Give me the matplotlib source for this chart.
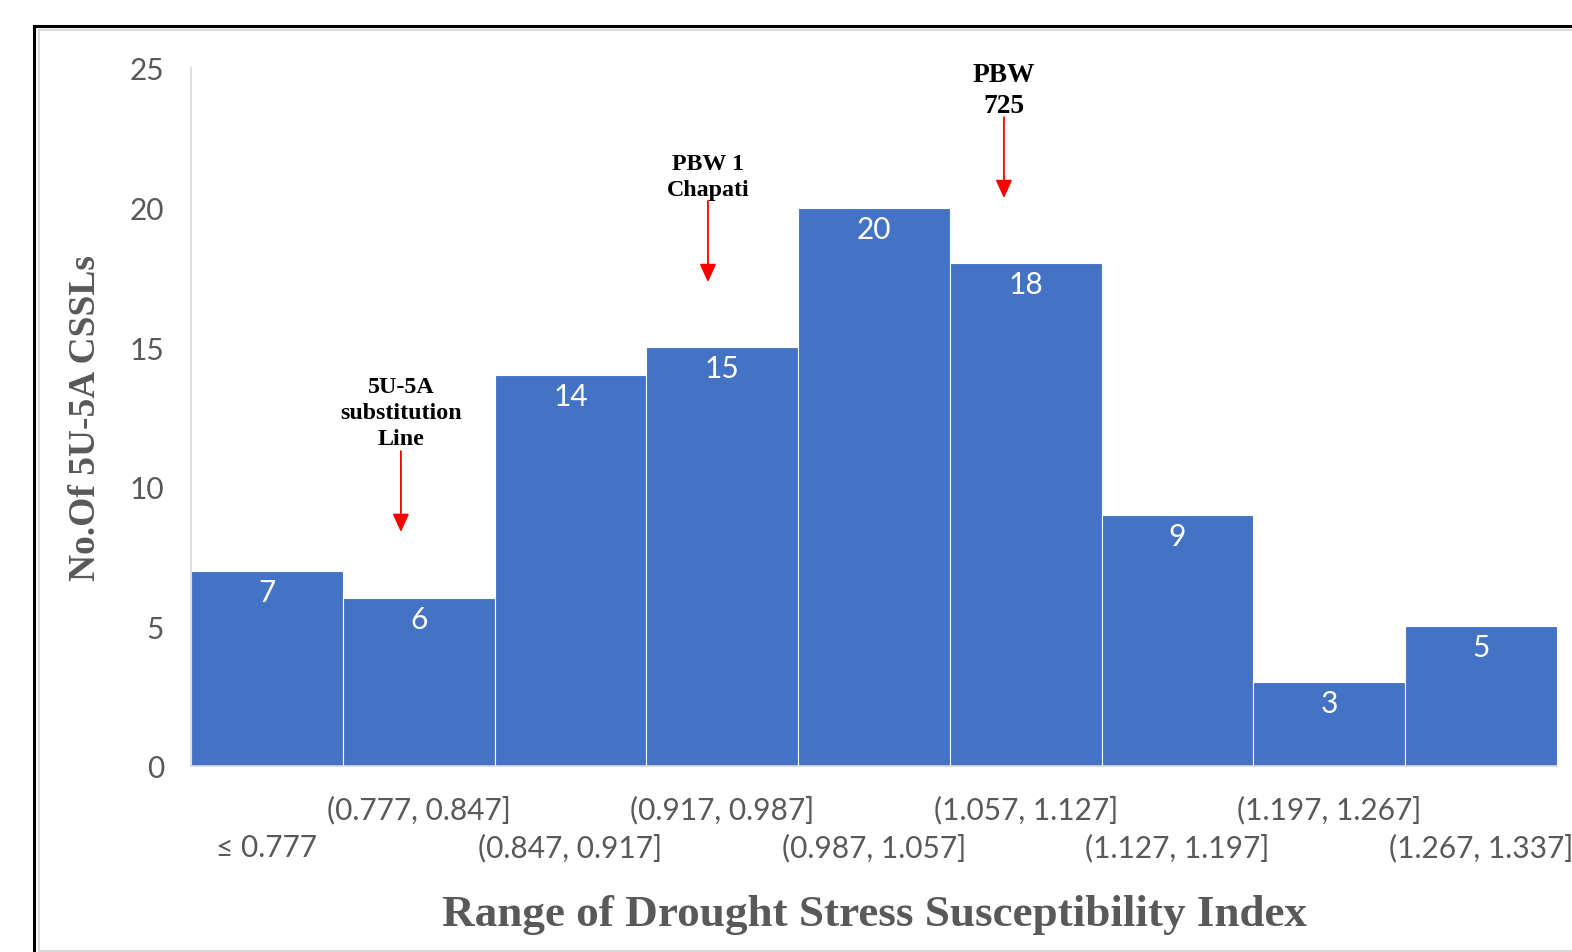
import matplotlib
matplotlib.use("Agg")
import matplotlib.pyplot as plt
from matplotlib.lines import Line2D
from matplotlib.transforms import ScaledTranslation

# ---- data ----
categories = ["\u2264 0.777", "(0.777, 0.847]", "(0.847, 0.917]", "(0.917, 0.987]",
              "(0.987, 1.057]", "(1.057, 1.127]", "(1.127, 1.197]", "(1.197, 1.267]",
              "(1.267, 1.337]"]
counts = [7, 6, 14, 15, 20, 18, 9, 3, 5]
yticks = [0, 5, 10, 15, 20, 25]

# annotations: text, target category index
ann_texts = ["5U-5A\nsubstitution\nLine", "PBW 1\nChapati", "PBW\n725"]
ann_index = [1, 3, 5]

BAR = "#4472C4"
GRAY = "#595959"
SANS = "Lato"
SERIF = "Liberation Serif"
TFS = 21.5

W, H = 1572, 953
fig = plt.figure(figsize=(W / 100, H / 100), dpi=100)
ax = fig.add_axes([191 / W, 1 - 767 / H, (1557 - 191) / W, (767 - 69) / H])

x = list(range(len(categories)))
ax.bar(x, counts, width=1.0, color=BAR, edgecolor="white", linewidth=0.8, zorder=2)
ax.set_xlim(-0.5, len(categories) - 0.5)
ax.set_ylim(0, 25)

for xi, c in zip(x, counts):
    ax.annotate(str(c), (xi, c), xytext=(0, -21), textcoords="offset pixels",
                ha="center", va="center", color="white", fontsize=TFS, family=SANS, zorder=3)

ax.set_yticks(yticks)
ax.set_yticklabels([str(t) for t in yticks], fontsize=TFS, family=SANS, color=GRAY)
ax.set_xticks(x)
ax.set_xticklabels(categories, fontsize=TFS, family=SANS, color=GRAY)
ax.tick_params(axis="both", length=0)
ax.tick_params(axis="y", pad=19.5)
ax.tick_params(axis="x", pad=21)
for i, lab in enumerate(ax.get_xticklabels()):
    if i % 2 == 0:
        lab.set_transform(lab.get_transform() + ScaledTranslation(0, -0.38, fig.dpi_scale_trans))

for s in ["top", "right"]:
    ax.spines[s].set_visible(False)
for s in ["left", "bottom"]:
    ax.spines[s].set_color("#d9d9d9")
    ax.spines[s].set_linewidth(1.2)

ax.set_ylabel("No.Of 5U-5A CSSLs", family=SERIF, fontweight="bold", fontsize=27,
              color=GRAY, va="center")
ax.yaxis.set_label_coords((86 - 191) / 1366, 0.5)
ax.set_xlabel("Range of Drought Stress Susceptibility Index", family=SERIF,
              fontweight="bold", fontsize=32.5, color=GRAY, va="center")
ax.xaxis.set_label_coords((874 - 191) / 1366, (767 - 915) / 698)

# annotations with red arrows
specs = [  # (x offset from category center, tip y, tail y, text y, fontsize)
    (0.883 - 1, 8.38, 11.28, 12.66, 17.3),
    (2.906 - 3, 17.33, 20.24, 21.10, 17.3),
    (4.856 - 5, 20.34, 23.24, 24.20, 19.8),
]
for txt, idx, (dx, tip, tail, ty, fs) in zip(ann_texts, ann_index, specs):
    xa = idx + dx
    ax.annotate("", xy=(xa, tip), xytext=(xa, tail),
                arrowprops=dict(arrowstyle="-|>,head_length=1.1,head_width=0.5",
                                color="#FF0000", lw=1.3, shrinkA=0, shrinkB=0), zorder=4)
    ax.text(xa, ty, txt, ha="center", va="center", family=SERIF, fontweight="bold",
            fontsize=fs, color="black", linespacing=1.32, zorder=4)

# outer frame
fig.add_artist(Line2D([34 / W, 1], [1 - 27 / H, 1 - 27 / H], color="black", lw=2.2))
fig.add_artist(Line2D([34 / W, 34 / W], [0, 1 - 27 / H], color="black", lw=2.2))
fig.add_artist(Line2D([39 / W, 1], [1 - 31 / H, 1 - 31 / H], color="#d9d9d9", lw=1.5))
fig.add_artist(Line2D([39 / W, 39 / W], [1 / H, 1 - 31 / H], color="#d9d9d9", lw=1.5))
fig.add_artist(Line2D([39 / W, 1], [1.5 / H, 1.5 / H], color="#d9d9d9", lw=1.5))

fig.savefig("out.png", dpi=100)
